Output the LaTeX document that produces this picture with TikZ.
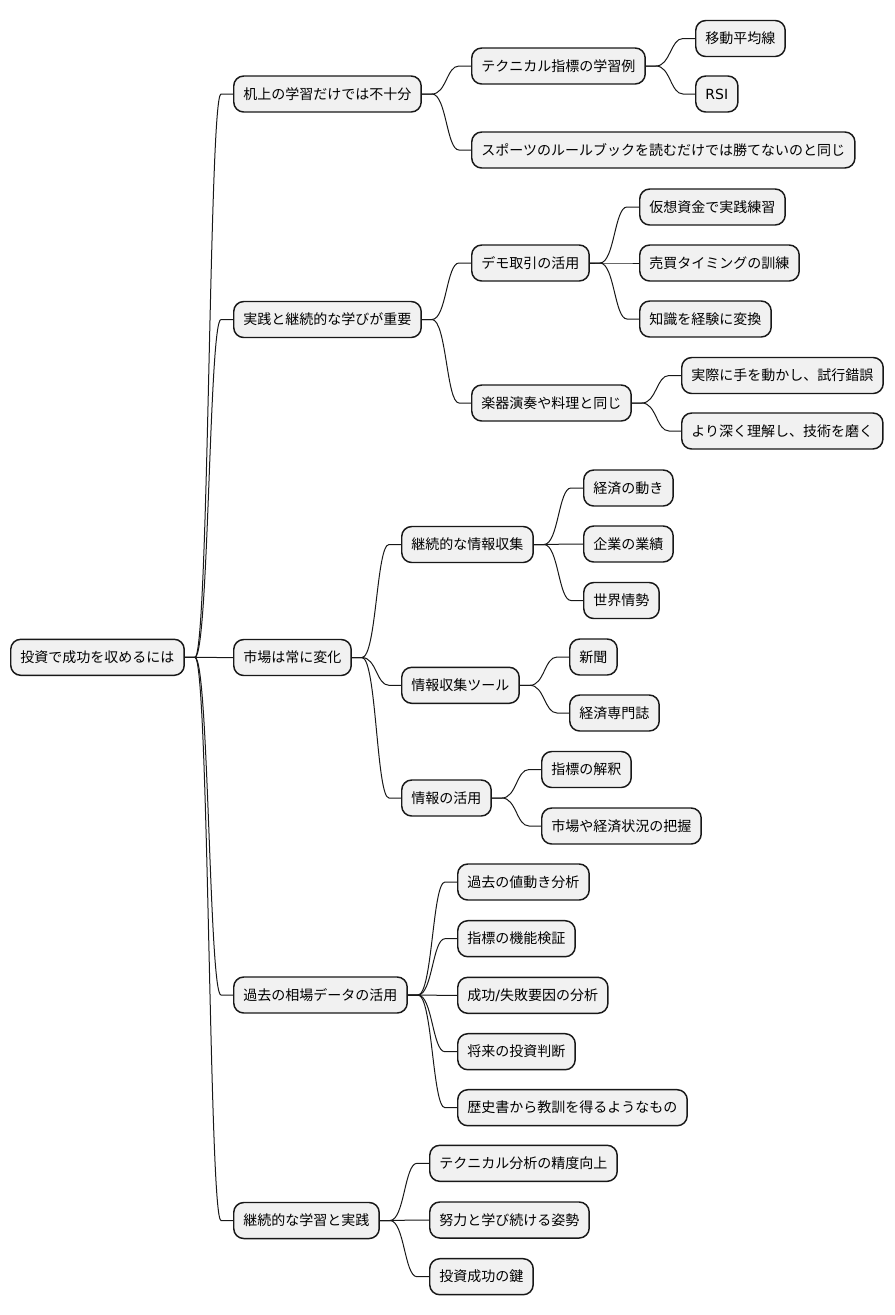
\documentclass[tikz,border=0pt]{standalone}
\usepackage{fontspec}
\setmainfont{Noto Sans CJK JP}
\newfontfamily\latinfont{DejaVu Sans}
\usetikzlibrary{calc}
\definecolor{boxfill}{HTML}{F1F1F1}
\definecolor{ink}{HTML}{181818}
\tikzset{
  mm/.style={draw=ink, fill=boxfill, line width=1.1pt, rounded corners=7.5pt,
    anchor=west, minimum height=27pt, inner xsep=7.3pt, inner ysep=0pt,
    text height=0.83em, text depth=0.07em, font=\fontsize{10.5pt}{12pt}\selectfont, text=black},
  link/.style={draw=ink, line width=0.75pt}
}
\newcommand\mmlink[2]{\draw[link] let \p1=(#1.east), \p2=(#2.west) in
  (\p1) -- ++(7.5pt,0) .. controls ({(\x1+\x2)/2},\y1) and ({(\x1+\x2)/2},\y2) .. ({\x2-9pt},\y2) -- (\p2);}
\begin{document}
\begin{tikzpicture}[x=0.75pt,y=-0.75pt]
\useasboundingbox (0,0) rectangle (894,1315);
\node[mm] (root) at (10,657.3) {投資で成功を収めるには};
\node[mm] (a) at (233,94) {机上の学習だけでは不十分};
\node[mm] (a1) at (471,66) {テクニカル指標の学習例};
\node[mm] (a11) at (695,38.5) {移動平均線};
\node[mm] (a12) at (695,94) {\latinfont RSI};
\node[mm] (a2) at (471,150) {スポーツのルールブックを読むだけでは勝てないのと同じ};
\node[mm] (b) at (233,319.5) {実践と継続的な学びが重要};
\node[mm] (b1) at (471,263) {デモ取引の活用};
\node[mm] (b11) at (639,207) {仮想資金で実践練習};
\node[mm] (b12) at (639,263) {売買タイミングの訓練};
\node[mm] (b13) at (639,319) {知識を経験に変換};
\node[mm] (b2) at (471,403) {楽器演奏や料理と同じ};
\node[mm] (b21) at (681,375.5) {実際に手を動かし、試行錯誤};
\node[mm] (b22) at (681,431) {より深く理解し、技術を磨く};
\node[mm] (c) at (233,657.5) {市場は常に変化};
\node[mm] (c1) at (401,544.5) {継続的な情報収集};
\node[mm] (c11) at (583,488) {経済の動き};
\node[mm] (c12) at (583,544) {企業の業績};
\node[mm] (c13) at (583,600.5) {世界情勢};
\node[mm] (c2) at (401,685.3) {情報収集ツール};
\node[mm] (c21) at (569,657) {新聞};
\node[mm] (c22) at (569,713) {経済専門誌};
\node[mm] (c3) at (401,798) {情報の活用};
\node[mm] (c31) at (541,769.5) {指標の解釈};
\node[mm] (c32) at (541,826) {市場や経済状況の把握};
\node[mm] (d) at (233,995) {過去の相場データの活用};
\node[mm] (d1) at (457,882) {過去の値動き分析};
\node[mm] (d2) at (457,938.7) {指標の機能検証};
\node[mm] (d3) at (457,995.3) {成功{\latinfont /}失敗要因の分析};
\node[mm] (d4) at (457,1051.7) {将来の投資判断};
\node[mm] (d5) at (457,1107.7) {歴史書から教訓を得るようなもの};
\node[mm] (e) at (233,1220.5) {継続的な学習と実践};
\node[mm] (e1) at (429,1163.3) {テクニカル分析の精度向上};
\node[mm] (e2) at (429,1220) {努力と学び続ける姿勢};
\node[mm] (e3) at (429,1276.7) {投資成功の鍵};
\mmlink{root}{a}\mmlink{root}{b}\mmlink{root}{c}\mmlink{root}{d}\mmlink{root}{e}
\mmlink{a}{a1}\mmlink{a}{a2}\mmlink{a1}{a11}\mmlink{a1}{a12}
\mmlink{b}{b1}\mmlink{b}{b2}\mmlink{b1}{b11}\mmlink{b1}{b12}\mmlink{b1}{b13}
\mmlink{b2}{b21}\mmlink{b2}{b22}
\mmlink{c}{c1}\mmlink{c}{c2}\mmlink{c}{c3}
\mmlink{c1}{c11}\mmlink{c1}{c12}\mmlink{c1}{c13}
\mmlink{c2}{c21}\mmlink{c2}{c22}
\mmlink{c3}{c31}\mmlink{c3}{c32}
\mmlink{d}{d1}\mmlink{d}{d2}\mmlink{d}{d3}\mmlink{d}{d4}\mmlink{d}{d5}
\mmlink{e}{e1}\mmlink{e}{e2}\mmlink{e}{e3}
\end{tikzpicture}
\end{document}
